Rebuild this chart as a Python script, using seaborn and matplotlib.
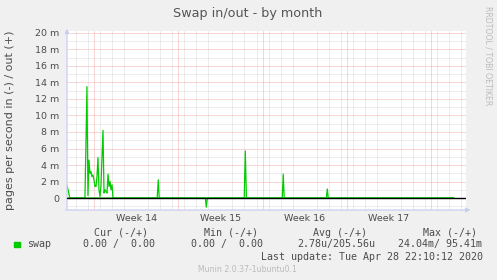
import numpy as np
import pandas as pd
import matplotlib
matplotlib.use("Agg")
import matplotlib.pyplot as plt
import seaborn as sns

# ---- data (days relative to Mon 30 Mar 2020 00:00; values in milli pages/s) ----
out_days = [-2.25, -2.17, -2.08, -2.0,
            -0.75, -0.667, -0.583, -0.5, -0.417, -0.333, -0.25, -0.167, -0.083,
            0.0, 0.083, 0.167, 0.25, 0.333, 0.417, 0.5, 0.583, 0.667, 0.75,
            0.833, 0.917, 1.0, 1.083, 1.167, 1.25, 1.333, 1.417, 1.5, 1.583,
            5.25, 5.34, 5.42,
            12.48, 12.57, 12.66,
            15.64, 15.72, 15.8,
            19.3, 19.38, 19.46,
            29.9]
out_milli = [1.5, 1.1, 0.5, 0.0,
             0.0, 6.5, 13.5, 0.3, 4.6, 3.0, 3.2, 2.6, 2.8,
             2.2, 1.4, 1.4, 2.6, 4.9, 1.0, 0.2, 1.5, 5.0, 8.2,
             0.6, 1.0, 0.8, 0.6, 2.9, 1.4, 2.0, 1.0, 1.6, 0.0,
             0.0, 2.2, 0.0,
             0.0, 5.7, 0.0,
             0.0, 2.9, 0.0,
             0.0, 1.1, 0.0,
             0.0]
in_days = [-2.25, 9.25, 9.33, 9.42, 29.9]
in_milli = [0.0, 0.0, 1.1, 0.0, 0.0]

week_labels = ["Week 14", "Week 15", "Week 16", "Week 17"]
week_starts = [0, 7, 14, 21, 28]
y_major = list(range(0, 21, 2))

legend_headers = ["Cur (-/+)", "Min (-/+)", "Avg (-/+)", "Max (-/+)"]
legend_values = ["0.00 /  0.00", "0.00 /  0.00", "2.78u/205.56u", "24.04m/ 95.41m"]
last_update = "Last update: Tue Apr 28 22:10:12 2020"

df_out = pd.DataFrame({"day": out_days, "value": np.array(out_milli) * 1e-3})
df_in = pd.DataFrame({"day": in_days, "value": -np.array(in_milli) * 1e-3})

# ---- styling ----
sns.set_style("white")
plt.rcParams["font.family"] = ["DejaVu Sans"]
BG = "#F0F0F0"
TXT = "#4C4C4C"
GREEN = "#00CC00"
RED_GRID = "#F2A0A0"
GREY_GRID = "#D2D2D2"
AXIS_COL = "#C8CCF0"

W, H = 497, 280
fig = plt.figure(figsize=(W / 100, H / 100), dpi=100, facecolor=BG)
ax = fig.add_axes([67 / W, 1 - 210 / H, 399 / W, (210 - 31.3) / H])
ax.set_facecolor("white")

ax.set_xlim(-2.24, 30.9)
ax.set_ylim(-1.45e-3, 20.2e-3)

# grids
ax.set_yticks([v * 1e-3 for v in y_major])
ax.set_yticklabels(["0" if v == 0 else f"{v} m" for v in y_major])
ax.set_yticks([v * 1e-3 for v in range(-1, 21, 1)], minor=True)
ax.set_xticks([d + 0.5 for d in range(-2, 31)], minor=True)
ax.set_xticks([s + 3.5 for s in week_starts[:4]])
ax.set_xticklabels(week_labels)
ax.grid(False)
ax.grid(True, which="minor", axis="both", color=GREY_GRID, linestyle=(0, (1.2, 1.2)), linewidth=0.6)
ax.grid(True, which="major", axis="y", color=RED_GRID, linestyle=(0, (1.2, 1.2)), linewidth=0.6)
for s in week_starts:
    ax.axvline(s, color=RED_GRID, linestyle=(0, (1.2, 1.2)), linewidth=0.6, zorder=0.6)
ax.set_axisbelow(True)

ax.tick_params(axis="both", which="both", length=0, colors=TXT, labelsize=6.8)
ax.tick_params(axis="y", pad=5.5)
ax.tick_params(axis="x", pad=3)
for sp in ax.spines.values():
    sp.set_visible(False)

# data
sns.lineplot(data=df_out, x="day", y="value", ax=ax, color=GREEN, linewidth=0.9,
             estimator=None, legend=False)
sns.lineplot(data=df_in, x="day", y="value", ax=ax, color=GREEN, linewidth=0.9,
             estimator=None, legend=False)
ax.axhline(0, color="black", linewidth=1.0, zorder=5)
ax.set_xlabel("")
ax.set_ylabel("pages per second in (-) / out (+)", fontsize=8.0, color=TXT)
ax.yaxis.label.set_va("center")
ax.yaxis.set_label_coords(-0.143, 0.505)

# axis arrows
ax.annotate("", xy=(1.018, 0), xytext=(-0.01, 0), xycoords="axes fraction",
            arrowprops=dict(arrowstyle="-|>", color=AXIS_COL, lw=0.9, mutation_scale=6),
            annotation_clip=False)
ax.annotate("", xy=(0, 1.03), xytext=(0, -0.012), xycoords="axes fraction",
            arrowprops=dict(arrowstyle="-|>", color=AXIS_COL, lw=0.9, mutation_scale=6),
            annotation_clip=False)

# titles / side text
fig.text(248 / W, 1 - 13 / H, "Swap in/out - by month", ha="center", va="center",
         fontsize=9.2, color="#555555")
fig.text(488 / W, 1 - 56 / H, "RRDTOOL / TOBI OETIKER", ha="center", va="center",
         rotation=270, fontsize=5.6, color="#BBBBBB")

# legend block
mono = "DejaVu Sans Mono"
hdr_x = [94.3, 204, 313.3, 422.7]
for x, t in zip(hdr_x, legend_headers):
    fig.text(x / W, 1 - 232.7 / H, t, ha="left", va="center", family=mono, fontsize=7.2, color=TXT)
fig.patches.append(plt.Rectangle((14 / W, 1 - 247 / H), 6 / W, 5.5 / H,
                                 transform=fig.transFigure, color=GREEN))
fig.text(26.7 / W, 1 - 244.3 / H, "swap", ha="left", va="center", family=mono, fontsize=7.2, color=TXT)
val_x = [83.3, 190.7, 297.3, 398.3]
for x, t in zip(val_x, legend_values):
    fig.text(x / W, 1 - 244.3 / H, t, ha="left", va="center", family=mono, fontsize=7.2, color=TXT)
fig.text(482.7 / W, 1 - 256.7 / H, last_update, ha="right", va="center", family=mono,
         fontsize=7.2, color=TXT)
fig.text(248 / W, 1 - 269.3 / H, "Munin 2.0.37-1ubuntu0.1", ha="center", va="center",
         fontsize=5.6, color="#BBBBBB")

fig.savefig("out.png", dpi=100, facecolor=BG)
